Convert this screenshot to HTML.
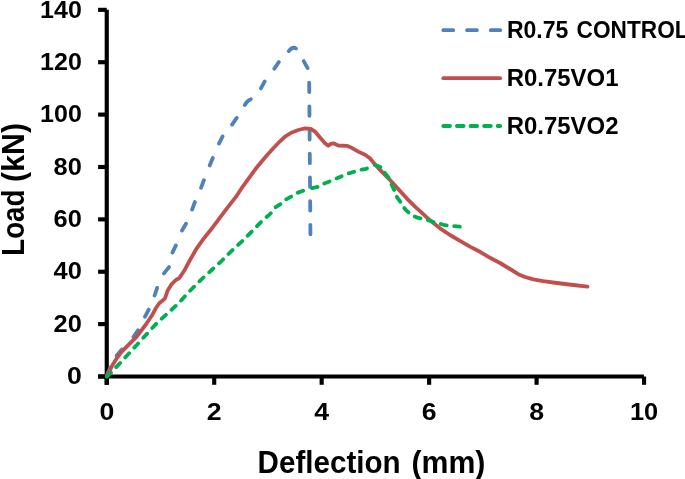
<!DOCTYPE html>
<html><head><meta charset="utf-8"><title>Load vs Deflection</title>
<style>
html,body{margin:0;padding:0;background:#fff;}
body{width:685px;height:479px;overflow:hidden;}
svg{display:block;}
text{font-family:"Liberation Sans",sans-serif;font-weight:bold;fill:#000;}
.tl text{font-size:24px;}
.ax line{stroke:#000;stroke-width:4.15;}
.s{fill:none;stroke-width:3.8;stroke-linecap:round;stroke-linejoin:round;}
</style></head><body>
<svg width="685" height="479" viewBox="0 0 685 479">
<rect width="685" height="479" fill="#fff"/>
<g class="ax">
<line x1="106.75" y1="9.85" x2="106.75" y2="384.8"/>
<line x1="98.1" y1="376.5" x2="643.9" y2="376.5"/>
<line x1="98.1" y1="376.50" x2="106.75" y2="376.50"/>
<line x1="98.1" y1="324.12" x2="106.75" y2="324.12"/>
<line x1="98.1" y1="271.74" x2="106.75" y2="271.74"/>
<line x1="98.1" y1="219.36" x2="106.75" y2="219.36"/>
<line x1="98.1" y1="166.98" x2="106.75" y2="166.98"/>
<line x1="98.1" y1="114.60" x2="106.75" y2="114.60"/>
<line x1="98.1" y1="62.22" x2="106.75" y2="62.22"/>
<line x1="98.1" y1="9.84" x2="106.75" y2="9.84"/>
<line x1="106.75" y1="376.5" x2="106.75" y2="384.8"/>
<line x1="214.21" y1="376.5" x2="214.21" y2="384.8"/>
<line x1="321.67" y1="376.5" x2="321.67" y2="384.8"/>
<line x1="429.13" y1="376.5" x2="429.13" y2="384.8"/>
<line x1="536.59" y1="376.5" x2="536.59" y2="384.8"/>
<line x1="644.05" y1="376.5" x2="644.05" y2="384.8"/>
</g>
<g class="tl">
<text x="81.8" y="384.2" text-anchor="end" textLength="14.85" lengthAdjust="spacingAndGlyphs">0</text>
<text x="81.8" y="331.8" text-anchor="end" textLength="28.25" lengthAdjust="spacingAndGlyphs">20</text>
<text x="81.8" y="279.4" text-anchor="end" textLength="28.25" lengthAdjust="spacingAndGlyphs">40</text>
<text x="81.8" y="227.1" text-anchor="end" textLength="28.25" lengthAdjust="spacingAndGlyphs">60</text>
<text x="81.8" y="174.7" text-anchor="end" textLength="28.25" lengthAdjust="spacingAndGlyphs">80</text>
<text x="81.8" y="122.3" text-anchor="end" textLength="41.7" lengthAdjust="spacingAndGlyphs">100</text>
<text x="81.8" y="69.9" text-anchor="end" textLength="41.7" lengthAdjust="spacingAndGlyphs">120</text>
<text x="81.8" y="17.5" text-anchor="end" textLength="41.7" lengthAdjust="spacingAndGlyphs">140</text>
<text x="106.8" y="419.6" text-anchor="middle" textLength="14.85" lengthAdjust="spacingAndGlyphs">0</text>
<text x="214.2" y="419.6" text-anchor="middle" textLength="14.85" lengthAdjust="spacingAndGlyphs">2</text>
<text x="321.7" y="419.6" text-anchor="middle" textLength="14.85" lengthAdjust="spacingAndGlyphs">4</text>
<text x="429.1" y="419.6" text-anchor="middle" textLength="14.85" lengthAdjust="spacingAndGlyphs">6</text>
<text x="536.6" y="419.6" text-anchor="middle" textLength="14.85" lengthAdjust="spacingAndGlyphs">8</text>
<text x="644.0" y="419.6" text-anchor="middle" textLength="28.25" lengthAdjust="spacingAndGlyphs">10</text>
</g>
<path class="s" stroke="#4f81bd" d="M107.1,375.0 L110.2,367.7 M116.7,355.6 L121.9,349.6 M133.5,336.9 L138.0,330.3 M145.0,316.7 L148.7,309.6 M154.6,295.5 L157.1,287.9 M164.0,273.4 L169.0,267.1 M172.4,252.6 L175.9,245.4 M182.0,230.5 L186.0,223.7 M192.1,209.6 L194.9,202.0 M201.1,187.7 L203.9,180.2 M209.7,165.4 L212.8,158.0 M219.0,143.6 L222.6,136.4 M232.1,124.6 L236.7,117.9 M244.8,105.0 Q247.4,100.3 250.8,99.2 M260.9,88.4 L264.7,81.4 M274.3,68.7 L278.8,62.1 M288.8,51.1 Q292.6,46.2 296.0,48.5 M303.7,61.1 L307.6,68.1 M309.18,82.6 L309.26,92.1 M309.38,106.3 L309.46,115.8 M309.57,130.0 L309.65,139.5 M309.77,153.7 L309.85,163.2 M309.97,177.4 L310.05,186.9 M310.16,201.1 L310.24,210.6 M310.36,224.8 L310.44,234.3"/>
<path class="s" stroke="#c0504d" d="M106.8,376.3 L111.7,366.6 L116.7,358.3 L121.7,351.6 L126.7,346.6 L131.7,341.6 L136.7,336.6 L141.7,330.0 L146.7,323.3 L151.7,315.8 L155.8,308.3 L159.2,303.3 L162.0,301.1 L165.0,298.3 L167.5,290.8 L171.7,284.1 L175.8,280.0 L179.2,278.3 L184.2,270.8 L190.0,260.0 L196.7,248.3 L203.3,239.1 L210.0,230.8 L217.5,220.8 L225.0,210.8 L230.8,203.3 L236.7,195.8 L243.3,185.8 L250.0,176.6 L256.7,167.5 L265.0,157.5 L273.3,148.3 L280.0,141.3 L285.0,136.6 L291.7,132.5 L298.3,130.0 L305.0,128.3 L310.8,128.8 L315.0,131.6 L320.0,137.5 L325.0,143.3 L328.3,145.8 L330.8,143.8 L333.3,143.3 L338.3,145.5 L346.7,145.8 L351.7,147.8 L358.3,151.6 L365.0,154.7 L370.0,158.3 L375.0,164.5 L381.7,171.6 L390.0,180.0 L398.3,189.1 L406.7,198.3 L415.0,206.6 L423.3,214.1 L430.0,220.3 L440.0,228.3 L450.0,235.0 L460.0,240.8 L470.0,246.6 L480.0,251.8 L490.0,257.8 L500.0,263.0 L510.0,269.0 L518.3,274.2 L525.0,277.0 L533.3,279.3 L543.3,281.2 L556.7,283.0 L573.3,285.0 L587.5,286.7"/>
<path class="s" stroke="#00b050" stroke-dasharray="5.7 7.59" stroke-dashoffset="0" d="M107.0,376.7 L116.7,366.6 L126.7,355.8 L136.7,345.0 L146.7,334.1 L156.7,323.3 L166.7,314.1 L176.7,305.0 L181.2,300.4 L190.0,290.8 L201.7,279.1 L211.7,270.0 L221.7,260.8 L231.7,250.8 L241.7,241.6 L253.3,230.0 L261.7,221.3 L270.0,214.1 L275.7,207.2 L283.6,202.0 L286.2,199.4 L294.5,194.7 L298.0,192.6 L304.8,190.1"/>
<path class="s" stroke="#00b050" stroke-dasharray="5.7 7.56" stroke-dashoffset="-1.9" d="M310.2,188.5 L319.6,186.4 L323.2,183.8 L332.1,180.6 L335.7,178.7 L344.6,175.0 L348.3,173.5 L357.1,170.9 L360.8,169.8 L366.3,168.9 L368.3,167.7"/>
<path class="s" stroke="#00b050" stroke-dasharray="6.1 7.5" stroke-dashoffset="-1.9" d="M372.8,164.6 L376.0,165.2 L381.1,167.2 L383.7,171.4 L389.5,178.7 L391.0,183.4 L394.7,191.2 L395.8,195.5 L401.7,203.7 L402.8,206.6 L406.5,210.6 L410.4,214.2 L412.8,215.9 L417.5,217.6 L422.7,218.9 L425.6,219.5 L430.5,221.0 L435.5,222.8 L439.1,223.4 L443.5,224.8 L448.4,225.7 L451.9,225.9 L456.5,226.3 L459.9,226.7"/>
<g class="tl">
<line x1="443.3" y1="30.2" x2="500.2" y2="30.2" class="s" stroke="#4f81bd" stroke-dasharray="9.9 13.85"/>
<line x1="443.3" y1="78.2" x2="500.2" y2="78.2" class="s" stroke="#c0504d"/>
<line x1="443.3" y1="126" x2="500.2" y2="126" class="s" stroke="#00b050" stroke-dasharray="6.7 6.9"/>
<text y="38"><tspan x="506.9" textLength="61.5" lengthAdjust="spacingAndGlyphs">R0.75</tspan> <tspan x="576.6" textLength="112" lengthAdjust="spacingAndGlyphs">CONTROL</tspan></text>
<text x="506.7" y="86" textLength="111.8" lengthAdjust="spacingAndGlyphs">R0.75VO1</text>
<text x="506.7" y="133.5" textLength="111.8" lengthAdjust="spacingAndGlyphs">R0.75VO2</text>
</g>
<text y="472.8" font-size="30.5"><tspan x="257.6" textLength="143" lengthAdjust="spacingAndGlyphs">Deflection</tspan> <tspan x="411.4" textLength="74" lengthAdjust="spacingAndGlyphs">(mm)</tspan></text>
<text transform="translate(23.7,0) rotate(-90)" font-size="30.5" y="0"><tspan x="-255.8" textLength="66.3" lengthAdjust="spacingAndGlyphs">Load</tspan> <tspan x="-181.9" textLength="59" lengthAdjust="spacingAndGlyphs">(kN)</tspan></text>
</svg>
</body></html>
